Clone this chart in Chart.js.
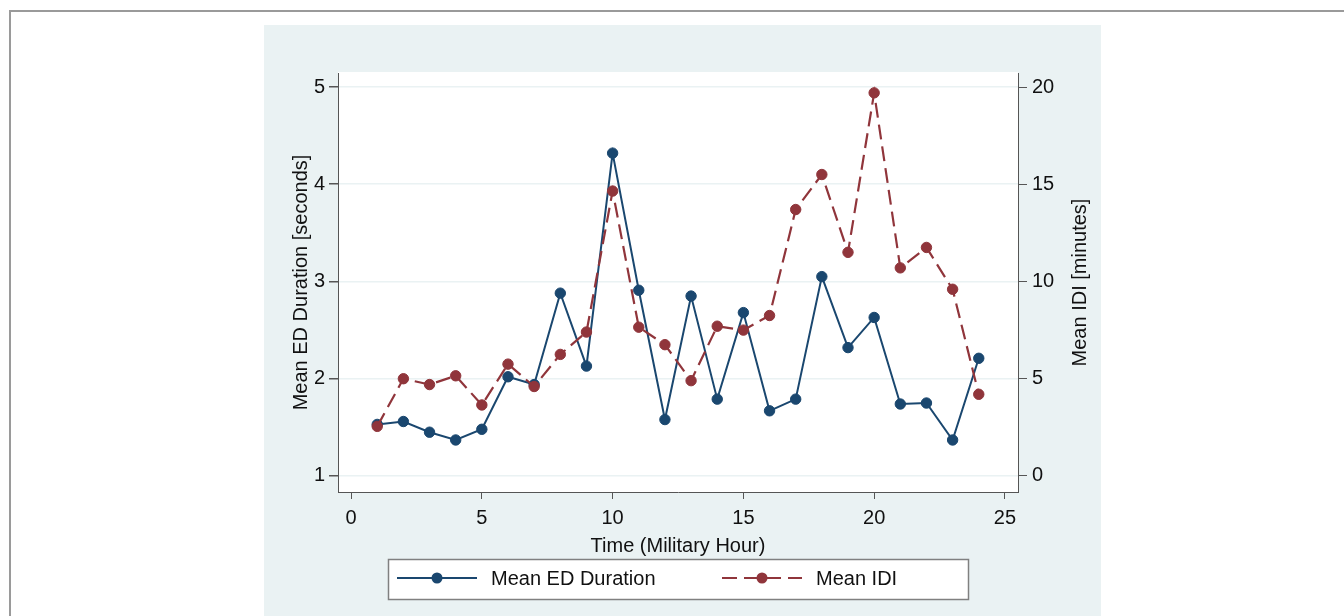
<!DOCTYPE html>
<html lang="en">
<head>
    <meta charset="UTF-8">
    <title>Mean ED Duration and Mean IDI by Hour</title>
    <script src="https://cdn.jsdelivr.net/npm/chart.js"></script>
    <style>
        body { margin: 0; background: #fff; width: 1344px; height: 616px; overflow: hidden; position: relative; }
        .frame { position: absolute; left: 9px; top: 10px; width: 1400px; height: 700px; border-top: 2px solid #9a9a9a; border-left: 2px solid #9a9a9a; }
        .panel { position: absolute; left: 264px; top: 25px; width: 837px; height: 600px; background: #eaf2f3; }
        #chart { position: absolute; left: 0; top: 0; }
    </style>
</head>
<body>
    <div class="frame"></div>
    <div class="panel"></div>
    <canvas id="chart" width="1344" height="616"></canvas>

    <script>
        // Values
        const hours = [1, 2, 3, 4, 5, 6, 7, 8, 9, 10, 11, 12, 13, 14, 15, 16, 17, 18, 19, 20, 21, 22, 23, 24];
        const edDuration = [1.53, 1.56, 1.45, 1.37, 1.48, 2.02, 1.94, 2.88, 2.13, 4.32, 2.91, 1.58,
                            2.85, 1.79, 2.68, 1.67, 1.79, 3.05, 2.32, 2.63, 1.74, 1.75, 1.37, 2.21];
        const meanIdi = [2.55, 5.0, 4.7, 5.15, 3.65, 5.75, 4.6, 6.25, 7.4, 14.65, 7.65, 6.75,
                         4.9, 7.7, 7.5, 8.25, 13.7, 15.5, 11.5, 19.7, 10.7, 11.75, 9.6, 4.2];

        // Tick labels
        const xTicks = [0, 5, 10, 15, 20, 25];
        const leftTicks = [1, 2, 3, 4, 5];
        const rightTicks = [0, 5, 10, 15, 20];

        const BLUE = '#1a476f';
        const RED = '#90353b';
        const AXIS = '#555';

        Chart.defaults.font.family = '"Liberation Sans", Arial, sans-serif';
        Chart.defaults.font.size = 20;
        Chart.defaults.color = '#111';

        // white plot region
        const plotBg = {
            id: 'plotBg',
            beforeDraw(chart) {
                const a = chart.chartArea, ctx = chart.ctx;
                ctx.save();
                ctx.fillStyle = '#fff';
                ctx.fillRect(a.left, a.top - 1, a.right - a.left, a.bottom - a.top + 1);
                ctx.restore();
            }
        };

        // right title reads bottom-to-top, plus a boxed legend with line samples
        const extras = {
            id: 'extras',
            afterDraw(chart) {
                const a = chart.chartArea, ctx = chart.ctx;
                ctx.save();
                ctx.font = '20px "Liberation Sans", Arial, sans-serif';
                ctx.fillStyle = '#111';
                ctx.textAlign = 'center';
                ctx.textBaseline = 'middle';
                ctx.translate(1080, (a.top + a.bottom) / 2);
                ctx.rotate(-Math.PI / 2);
                ctx.fillText('Mean IDI [minutes]', 0, 0);
                ctx.restore();

                ctx.save();
                ctx.fillStyle = '#fff';
                ctx.fillRect(388, 559, 580, 40);
                ctx.strokeStyle = '#808080';
                ctx.lineWidth = 1.5;
                ctx.strokeRect(388.5, 559.5, 580, 40);
                const starts = [397, 722];
                chart.data.datasets.forEach((ds, i) => {
                    const x0 = starts[i], y = 578;
                    ctx.strokeStyle = ds.borderColor;
                    ctx.lineWidth = ds.borderWidth;
                    ctx.setLineDash(ds.borderDash || []);
                    ctx.beginPath();
                    ctx.moveTo(x0, y);
                    ctx.lineTo(x0 + 80, y);
                    ctx.stroke();
                    ctx.setLineDash([]);
                    ctx.fillStyle = ds.pointBackgroundColor;
                    ctx.beginPath();
                    ctx.arc(x0 + 40, y, 5.5, 0, Math.PI * 2);
                    ctx.fill();
                    ctx.fillStyle = '#111';
                    ctx.font = '20px "Liberation Sans", Arial, sans-serif';
                    ctx.textAlign = 'left';
                    ctx.textBaseline = 'middle';
                    ctx.fillText(ds.label, x0 + 94, y + 1);
                });
                ctx.restore();
            }
        };

        new Chart(document.getElementById('chart'), {
            type: 'line',
            data: {
                datasets: [
                    {
                        label: 'Mean ED Duration',
                        data: hours.map((h, i) => ({ x: h, y: edDuration[i] })),
                        yAxisID: 'yLeft',
                        borderColor: BLUE,
                        backgroundColor: BLUE,
                        pointBackgroundColor: BLUE,
                        pointBorderColor: BLUE,
                        borderWidth: 2,
                        pointRadius: 5.2,
                        pointBorderWidth: 1,
                        tension: 0,
                        order: 1
                    },
                    {
                        label: 'Mean IDI',
                        data: hours.map((h, i) => ({ x: h, y: meanIdi[i] })),
                        yAxisID: 'yRight',
                        borderColor: RED,
                        backgroundColor: RED,
                        pointBackgroundColor: RED,
                        pointBorderColor: RED,
                        borderWidth: 2.2,
                        borderDash: [15, 7],
                        pointRadius: 5.2,
                        pointBorderWidth: 1,
                        tension: 0,
                        order: 0
                    }
                ]
            },
            options: {
                responsive: false,
                animation: false,
                devicePixelRatio: 1,
                layout: { padding: { left: 264, right: 243, top: 73, bottom: 57 } },
                plugins: { legend: { display: false }, tooltip: { enabled: false } },
                scales: {
                    x: {
                        type: 'linear',
                        min: -0.5,
                        max: 25.5,
                        afterBuildTicks: s => { s.ticks = xTicks.map(v => ({ value: v })); },
                        afterFit: s => { s.height = 67; },
                        grid: { drawOnChartArea: false, tickColor: AXIS, tickLength: 7 },
                        border: { color: AXIS, width: 1 },
                        ticks: { padding: 7, maxRotation: 0 },
                        title: { display: true, text: 'Time (Military Hour)', padding: { top: 0, bottom: 1 } }
                    },
                    yLeft: {
                        position: 'left',
                        min: 0.835,
                        max: 5.144,
                        afterBuildTicks: s => { s.ticks = leftTicks.map(v => ({ value: v })); },
                        afterFit: s => { s.width = 74; },
                        grid: { color: '#eaf2f3', lineWidth: 1.5, tickColor: AXIS, tickLength: 9 },
                        border: { color: AXIS, width: 1 },
                        ticks: { padding: 4 },
                        title: { display: true, text: 'Mean ED Duration [seconds]', padding: { top: 25, bottom: 0 } }
                    },
                    yRight: {
                        position: 'right',
                        min: -0.825,
                        max: 20.72,
                        afterBuildTicks: s => { s.ticks = rightTicks.map(v => ({ value: v })); },
                        afterFit: s => { s.width = 83; },
                        grid: { drawOnChartArea: false, tickColor: AXIS, tickLength: 9 },
                        border: { color: AXIS, width: 1 },
                        ticks: { padding: 5 }
                    }
                }
            },
            plugins: [plotBg, extras]
        });
    </script>
</body>
</html>
